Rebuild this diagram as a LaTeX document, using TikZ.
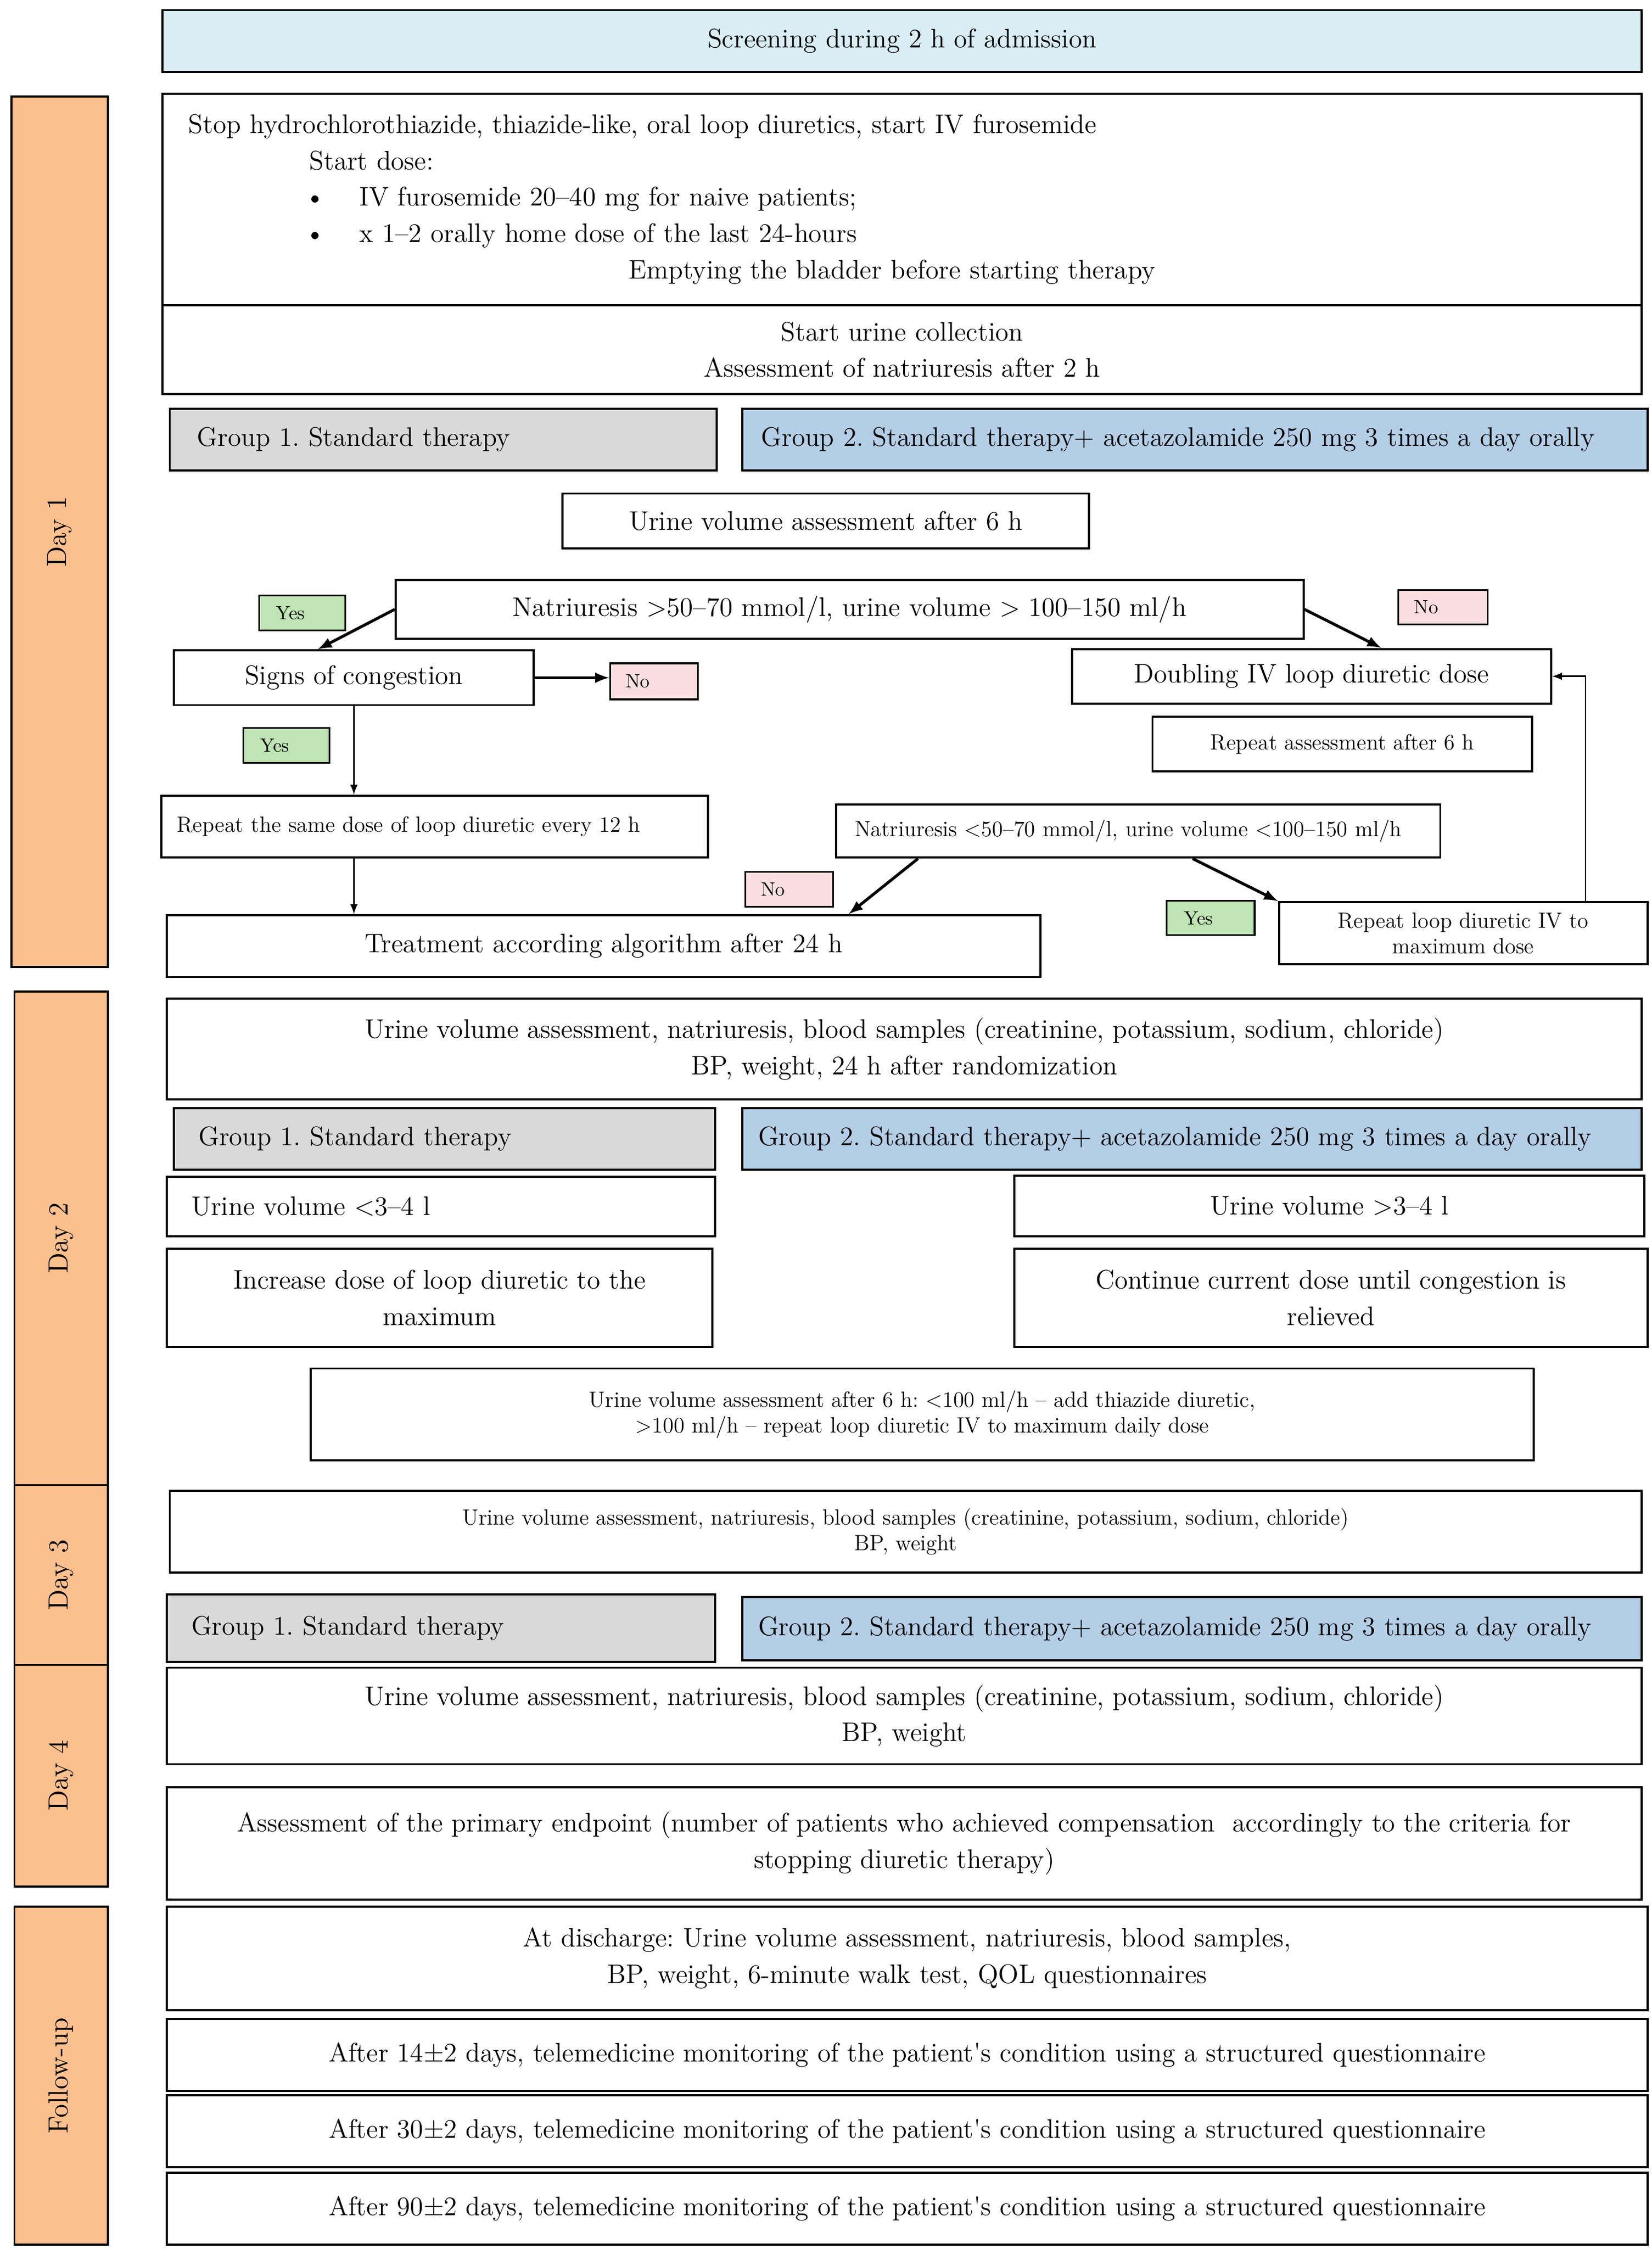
\documentclass[tikz,border=0pt]{standalone}
\usepackage{fontspec}
\usetikzlibrary{calc}
\definecolor{scrblue}{RGB}{216,238,244}
\definecolor{dayorange}{RGB}{252,192,142}
\definecolor{grpgrey}{RGB}{217,217,217}
\definecolor{grpblue}{RGB}{180,206,230}
\definecolor{yesgreen}{RGB}{192,228,180}
\definecolor{nopink}{RGB}{250,222,224}
\newlength\px
\setlength\px{0.0264cm}
\newcommand\mainsize{\fontsize{14}{19}\selectfont}
\newcommand\smallsize{\fontsize{11.5}{13.5}\selectfont}
\newcommand\tagsize{\fontsize{10}{12}\selectfont}
\newcommand\daysize{\fontsize{14.5}{16}\selectfont\addfontfeature{LetterSpace=25}}
\frenchspacing
\begin{document}
\begin{tikzpicture}[x=0.0264cm,y=-0.0264cm,
    box/.style={draw,line width=1.1pt,inner sep=0pt,align=center,font=\mainsize},
    small/.style={box,font=\smallsize},
    tag/.style={draw,line width=0.9pt,inner sep=0pt,font=\tagsize},
    day/.style={draw,line width=1pt,fill=dayorange,rotate=90,inner sep=0pt,font=\daysize},
    span/.style n args={4}{minimum width={(#3-#1)*\px},minimum height={(#4-#2)*\px},at={({(#1+#3)/2},{(#2+#4)/2})}},
    dspan/.style n args={4}{minimum width={(#4-#2)*\px},minimum height={(#3-#1)*\px},at={({(#1+#3)/2},{(#2+#4)/2})}},
    lspan/.code n args={5}{%
        \pgfmathsetlengthmacro\tw{(#3-#1-2*#5)*\px}%
        \tikzset{span={#1}{#2}{#3}{#4},inner xsep=#5*\px,align=left,text width/.expanded=\tw}},
    flow/.style={->,>=latex,line width=1.5pt},
    feed/.style={->,>=latex,line width=0.8pt}]
    \useasboundingbox (0,0) rectangle (1148,1563);

    %% day column
    \node[day,dspan={8}{67}{75}{672}] (day1) {Day 1};
    \node[day,dspan={10}{689}{75}{1032}] (day2) {Day 2};
    \node[day,dspan={10}{1032}{75}{1157}] (day3) {Day 3};
    \node[day,dspan={10}{1157}{75}{1311}] (day4) {Day 4};
    \node[day,dspan={10}{1325}{75}{1560}] (dayf) {Follow-up};

    %% day 1
    \node[box,fill=scrblue,span={113}{7}{1141}{50}] (screen) {Screening during 2 h of admission};
    \node[box,lspan={113}{65}{1141}{212}{18}] (stop) {Stop hydrochlorothiazide, thiazide-like, oral loop diuretics, start IV furosemide\\
        \hspace*{84\px}Start dose:\\
        \hspace*{81\px}\makebox[38\px][l]{\textbullet}IV furosemide 20–40 mg for naive patients;\\
        \hspace*{81\px}\makebox[38\px][l]{\textbullet}x 1–2 orally home dose of the last 24-hours\\
        \hspace*{306\px}Emptying the bladder before starting therapy};
    \node[box,span={113}{212}{1141}{274}] (collect) {Start urine collection\\Assessment of natriuresis after 2 h};
    \node[box,fill=grpgrey,lspan={118}{284}{498}{327}{19}] (grpa) {Group 1. Standard therapy};
    \node[box,fill=grpblue,lspan={516}{284}{1145}{327}{13}] (grpb) {Group 2. Standard therapy+ acetazolamide 250 mg 3 times a day orally};
    \node[box,span={391}{343}{757}{381}] (vol6) {Urine volume assessment after 6 h};
    \node[box,span={275}{403}{906}{444}] (nathi) {Natriuresis >50–70 mmol/l, urine volume > 100–150 ml/h};
    \node[tag,fill=yesgreen,lspan={180}{414}{240}{438}{12}] (yesa) {Yes};
    \node[tag,fill=nopink,lspan={972}{410}{1034}{434}{11}] (noa) {No};
    \node[box,span={121}{452}{371}{490}] (signs) {Signs of congestion};
    \node[tag,fill=nopink,lspan={424}{461}{485}{486}{11}] (nob) {No};
    \node[box,span={745}{451}{1078}{489}] (double) {Doubling IV loop diuretic dose};
    \node[small,span={801}{498}{1065}{536}] (rep6) {Repeat assessment after 6 h};
    \node[tag,fill=yesgreen,lspan={169}{506}{229}{530}{12}] (yesb) {Yes};
    \node[small,lspan={112}{553}{492}{596}{11}] (same) {Repeat the same dose of loop diuretic every 12 h};
    \node[small,lspan={581}{559}{1001}{596}{13}] (natlo) {Natriuresis <50–70 mmol/l, urine volume <100–150 ml/h};
    \node[tag,fill=nopink,lspan={518}{606}{579}{630}{11}] (noc) {No};
    \node[tag,fill=yesgreen,lspan={811}{626}{872}{650}{12}] (yesc) {Yes};
    \node[box,span={116}{636}{723}{679}] (treat) {Treatment according algorithm after 24 h};
    \node[small,span={889}{627}{1145}{670}] (maxd) {Repeat loop diuretic IV to\\maximum dose};

    %% connectors
    \draw[flow] (nathi.west) -- ($(signs.north west)!0.4!(signs.north east)$);
    \draw[flow] (nathi.east) -- ($(double.north west)!0.645!(double.north east)$);
    \draw[flow] (signs.east) -- (signs.east -| nob.west);
    \draw[feed] (signs.south) -- (signs.south |- same.north);
    \draw[feed] (signs.south |- same.south) -- (signs.south |- treat.north);
    \draw[flow] ($(natlo.south west)!0.137!(natlo.south east)$) -- ($(treat.north west)!0.78!(treat.north east)$);
    \draw[flow] ($(natlo.south west)!0.59!(natlo.south east)$) -- (maxd.north west);
    \draw[feed] ($(maxd.north west)!0.83!(maxd.north east)$) |- (double.east);

    %% day 2
    \node[box,span={116}{694}{1141}{764}] (check2) {Urine volume assessment, natriuresis, blood samples (creatinine, potassium, sodium, chloride)\\BP, weight, 24 h after randomization};
    \node[box,fill=grpgrey,lspan={121}{770}{497}{813}{17}] (grpc) {Group 1. Standard therapy};
    \node[box,fill=grpblue,lspan={516}{770}{1141}{813}{11}] (grpd) {Group 2. Standard therapy+ acetazolamide 250 mg 3 times a day orally};
    \node[box,lspan={116}{818}{497}{859}{17}] (vollo) {Urine volume <3–4 l};
    \node[box,span={705}{817}{1143}{859}] (volhi) {Urine volume >3–4 l};
    \node[box,span={116}{868}{495}{936}] (incr) {Increase dose of loop diuretic to the\\maximum};
    \node[box,span={705}{868}{1145}{936}] (cont) {Continue current dose until congestion is\\relieved};
    \node[small,span={216}{951}{1066}{1015}] (thz) {Urine volume assessment after 6 h: <100 ml/h – add thiazide diuretic,\\>100 ml/h – repeat loop diuretic IV to maximum daily dose};

    %% day 3 and 4
    \node[small,span={118}{1036}{1141}{1093}] (check3) {Urine volume assessment, natriuresis, blood samples (creatinine, potassium, sodium, chloride)\\BP, weight};
    \node[box,fill=grpgrey,lspan={116}{1108}{497}{1155}{17}] (grpe) {Group 1. Standard therapy};
    \node[box,fill=grpblue,lspan={516}{1110}{1141}{1154}{11}] (grpf) {Group 2. Standard therapy+ acetazolamide 250 mg 3 times a day orally};
    \node[box,span={116}{1159}{1141}{1226}] (check4) {Urine volume assessment, natriuresis, blood samples (creatinine, potassium, sodium, chloride)\\BP, weight};
    \node[box,span={116}{1242}{1141}{1320}] (primary) {Assessment of the primary endpoint (number of patients who achieved compensation\ \ accordingly to the criteria for\\stopping diuretic therapy)};

    %% follow-up
    \node[box,span={116}{1325}{1145}{1397}] (disch) {At discharge: Urine volume assessment, natriuresis, blood samples,\\BP, weight, 6-minute walk test, QOL questionnaires};
    \foreach \d/\top in {14/1403,30/1456,90/1510}
        \node[box,span={116}{\top}{1145}{\top+50}] (tel\d) {After \d±2 days, telemedicine monitoring of the patient\textquotesingle s condition using a structured questionnaire};
\end{tikzpicture}
\end{document}
